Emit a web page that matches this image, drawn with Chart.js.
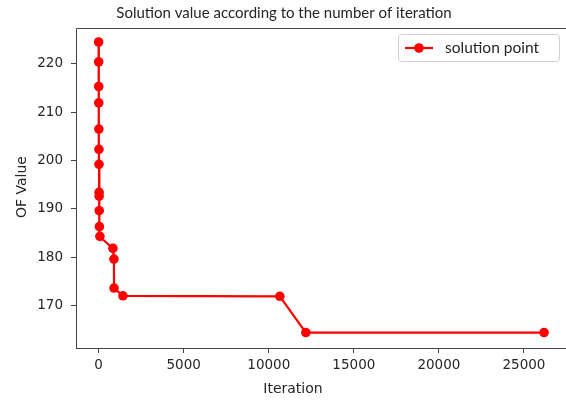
<!DOCTYPE html>
<html>
<head>
<meta charset="utf-8">
<script src="https://cdn.jsdelivr.net/npm/chart.js@4.4.1/dist/chart.umd.min.js"></script>
<style>
  html, body { margin: 0; padding: 0; background: #fff; }
  #wrap { width: 566px; height: 400px; position: relative; }
</style>
</head>
<body>
<div id="wrap"><canvas id="ofChart"></canvas></div>
<script>
// --- DATA ---
var iterations = [1, 3, 6, 9, 13, 18, 22, 28, 30, 36, 45, 75, 840, 900, 905, 1430, 10650, 12180, 26180];
var ofValues   = [224.5, 220.4, 215.3, 211.9, 206.5, 202.3, 199.2, 193.4, 192.6, 189.6, 186.3, 184.3,
                  181.8, 179.6, 173.6, 172.0, 171.9, 164.4, 164.4];
var xTicks = [0, 5000, 10000, 15000, 20000, 25000];
var yTicks = [170, 180, 190, 200, 210, 220];

var chartTitle = 'Solution value according to the number of iteration';
var xLabel = 'Iteration';
var yLabel = 'OF Value';
var seriesName = 'solution point';

var RED = '#ff0000';
var AXIS = '#444444';
var TEXT = '#262626';

var points = iterations.map(function (x, i) { return { x: x, y: ofValues[i] }; });

// Frame (top/left/bottom spines), titles and matplotlib-ish legend
var decor = {
  id: 'decor',
  afterDraw: function (chart) {
    var ctx = chart.ctx, a = chart.chartArea;
    ctx.save();
    ctx.strokeStyle = AXIS;
    ctx.lineWidth = 1;
    ctx.beginPath();
    ctx.moveTo(a.left + 0.5, a.bottom + 0.5);
    ctx.lineTo(a.left + 0.5, a.top + 0.5);
    ctx.lineTo(a.right, a.top + 0.5);
    ctx.moveTo(a.left, a.bottom + 0.5);
    ctx.lineTo(a.right, a.bottom + 0.5);
    ctx.stroke();

    // title
    ctx.fillStyle = TEXT;
    ctx.font = '15px Lato, "Open Sans", sans-serif';
    ctx.textAlign = 'center';
    ctx.textBaseline = 'middle';
    ctx.fillText(chartTitle, 284, 13);

    // axis titles
    ctx.font = '14px "DejaVu Sans", sans-serif';
    ctx.fillText(xLabel, 293, 389);
    ctx.save();
    ctx.translate(22, 187);
    ctx.rotate(-Math.PI / 2);
    ctx.fillText(yLabel, 0, 0);
    ctx.restore();

    // legend box
    var bx = 398, by = 34, bw = 161, bh = 27, r = 3;
    ctx.fillStyle = 'rgba(255,255,255,0.8)';
    ctx.strokeStyle = '#d0d0d0';
    ctx.beginPath();
    ctx.roundRect(bx + 0.5, by + 0.5, bw, bh, r);
    ctx.fill();
    ctx.stroke();

    var ly = by + bh / 2 + 0.5;
    ctx.strokeStyle = RED;
    ctx.lineWidth = 2.2;
    ctx.beginPath();
    ctx.moveTo(405, ly);
    ctx.lineTo(433, ly);
    ctx.stroke();
    ctx.fillStyle = RED;
    ctx.beginPath();
    ctx.arc(419, ly, 4.8, 0, Math.PI * 2);
    ctx.fill();

    ctx.fillStyle = TEXT;
    ctx.font = '15.5px Lato, "Open Sans", sans-serif';
    ctx.textAlign = 'left';
    ctx.fillText(seriesName, 445, ly);
    ctx.restore();
  }
};

var ctx = document.getElementById('ofChart').getContext('2d');
var ofChart = new Chart(ctx, {
  type: 'line',
  data: {
    datasets: [{
      label: seriesName,
      data: points,
      borderColor: RED,
      borderWidth: 2.2,
      backgroundColor: RED,
      pointBackgroundColor: RED,
      pointBorderColor: RED,
      pointBorderWidth: 0,
      pointRadius: 4.8,
      tension: 0,
      fill: false
    }]
  },
  options: {
    responsive: true,
    maintainAspectRatio: false,
    animation: false,
    // autoPadding off: otherwise Chart.js reserves room for the point radius
    layout: { autoPadding: false, padding: { top: 28, right: 0, bottom: 0, left: 0 } },
    plugins: {
      legend: { display: false },
      title: { display: false },
      tooltip: { enabled: false }
    },
    scales: {
      x: {
        type: 'linear',
        min: -1330,
        max: 27470,
        afterFit: function (s) { s.height = 52; s.paddingLeft = 0; s.paddingRight = 0; },
        afterBuildTicks: function (s) { s.ticks = xTicks.map(function (v) { return { value: v }; }); },
        border: { display: false },
        grid: { drawOnChartArea: false, drawTicks: true, tickLength: 5, color: AXIS },
        ticks: {
          color: TEXT,
          padding: 4,
          maxRotation: 0,
          font: { family: '"DejaVu Sans"', size: 13.5 },
          callback: function (v) { return String(v); }
        }
      },
      y: {
        type: 'linear',
        min: 161.2,
        max: 227.4,
        afterFit: function (s) { s.width = 76; s.paddingTop = 0; s.paddingBottom = 0; },
        afterBuildTicks: function (s) { s.ticks = yTicks.map(function (v) { return { value: v }; }); },
        border: { display: false },
        grid: { drawOnChartArea: false, drawTicks: true, tickLength: 5, color: AXIS },
        ticks: {
          color: TEXT,
          padding: 8,
          font: { family: '"DejaVu Sans"', size: 13.5 }
        }
      }
    }
  },
  plugins: [decor]
});
</script>
</body>
</html>
